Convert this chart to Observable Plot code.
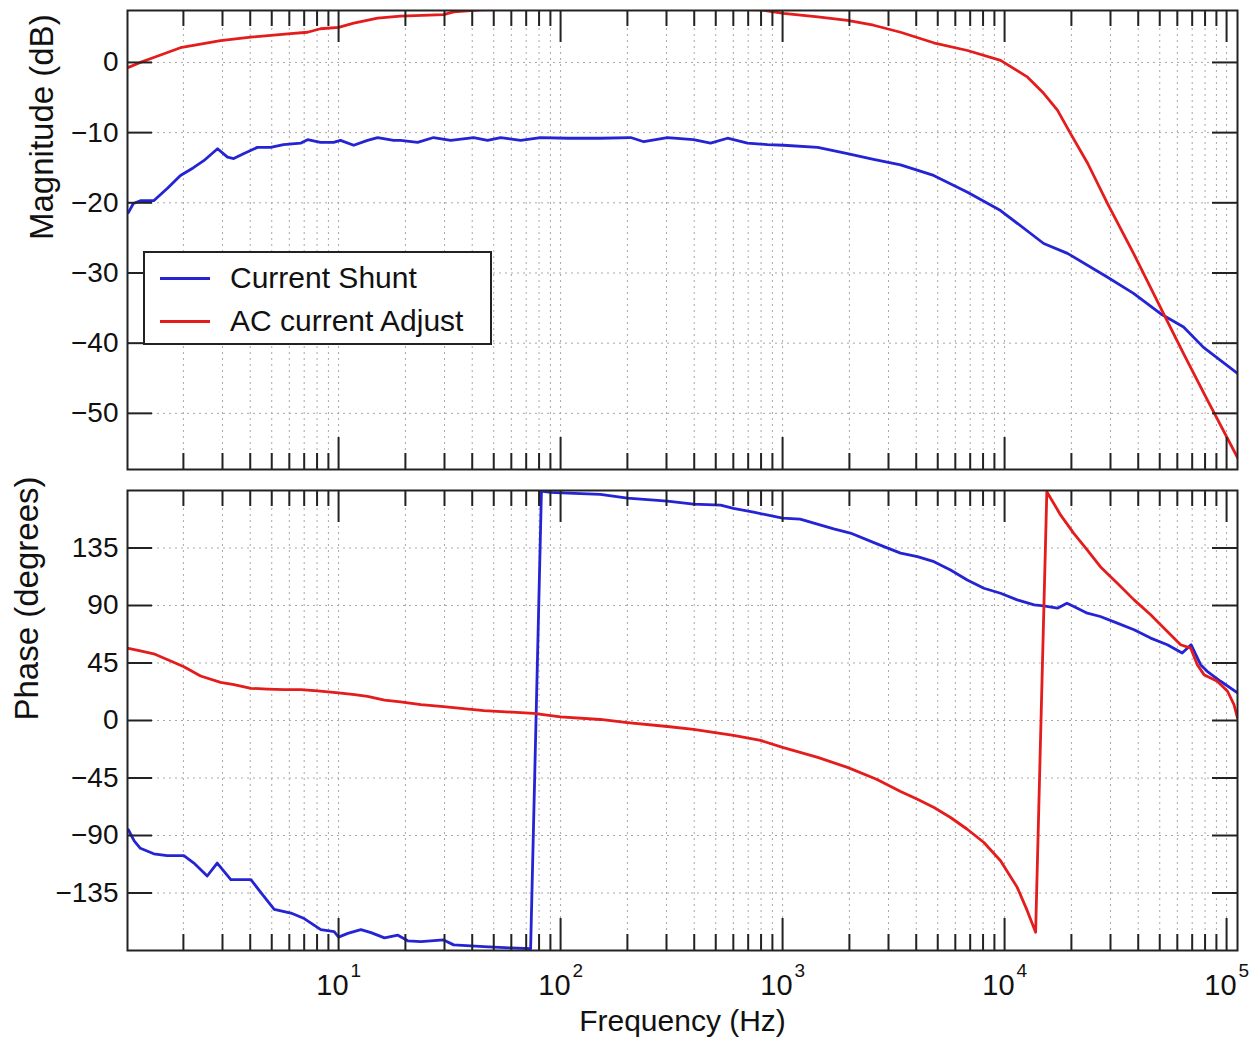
<!DOCTYPE html>
<html>
<head>
<meta charset="utf-8">
<script src="https://cdn.jsdelivr.net/npm/d3@7"></script>
<script src="https://cdn.jsdelivr.net/npm/@observablehq/plot@0.6"></script>
<style>
  body { margin: 0; background: #fff; }
  #wrap { position: relative; width: 1249px; height: 1050px; font-family: "Liberation Sans", Arial, sans-serif; background:#fff; }
  #wrap svg { display: block; }
  #legend { position: absolute; left: 143px; top: 251px; width: 345px; height: 90px; border: 2px solid #222; background: #fff; }
  .row { position: absolute; left: 0; height: 40px; display: flex; align-items: center; font-size: 30px; color: #111; white-space: nowrap; }
  .sw { width: 50px; height: 3px; margin-left: 15px; margin-right: 20px; }
</style>
</head>
<body>
<div id="wrap">
  <div id="top"></div>
  <div id="bottom"></div>
  <div id="legend"></div>
</div>
<script>
// ---------- data ----------
const seriesNames = ["Current Shunt", "AC current Adjust"];
const seriesColors = ["#2424d4", "#e41c1c"];

const decades = [10, 100, 1000, 10000, 100000];
const decadeExponents = ["1", "2", "3", "4", "5"];
const magTicks = [0, -10, -20, -30, -40, -50];
const phaseTicks = [135, 90, 45, 0, -45, -90, -135];
const xDomain = [1.12, 112000];
const magDomain = [-58, 7.4];
const phaseDomain = [-180, 180];

// Magnitude, Current Shunt
const magShuntFreq = [1.13,1.19,1.28,1.47,1.70,1.94,2.22,2.47,2.85,3.16,3.37,3.73,4.31,4.94,5.65,6.74,7.25,8.29,9.49,10.2,11.7,13.5,15.0,17.7,19.0,22.7,26.8,32.0,40.6,46.9,53.7,66.1,81.3,108,151,207,237,303,397,474,565,695,855,1010,1440,1960,2570,3400,4790,6810,9590,15000,19200,29100,38100,50400,64000,78700,112000];
const magShunt = [-21.4,-20.1,-19.7,-19.7,-17.9,-16.1,-15.0,-14.0,-12.3,-13.5,-13.7,-13.0,-12.1,-12.1,-11.7,-11.5,-11.0,-11.4,-11.4,-11.1,-11.8,-11.1,-10.7,-11.1,-11.1,-11.4,-10.7,-11.1,-10.7,-11.1,-10.7,-11.1,-10.7,-10.8,-10.8,-10.7,-11.3,-10.7,-11.0,-11.5,-10.8,-11.5,-11.7,-11.8,-12.1,-13.0,-13.8,-14.6,-16.1,-18.5,-21.1,-25.8,-27.2,-30.6,-32.9,-35.8,-37.7,-40.6,-44.3];

// Magnitude, AC current Adjust
const magAdjustFreq = [1.13,1.28,1.47,1.94,2.94,4.02,6.08,7.25,8.29,10.0,11.7,15.0,19.0,29.7,33.0,43.7,100,427,796,1010,1440,1960,2570,3400,4790,6810,9590,12700,15000,17300,19800,23700,29100,38100,52000,64000,82000,112000];
const magAdjust = [-0.7,0,0.7,2.1,3.1,3.6,4.1,4.3,4.8,5.0,5.6,6.3,6.6,6.8,7.2,7.5,7.7,7.7,7.5,7.0,6.5,6.0,5.3,4.3,2.8,1.7,0.3,-2.1,-4.4,-6.8,-10.1,-14.4,-20.1,-27.2,-35.8,-41.5,-48.1,-56.3];

// Phase, Current Shunt
const phaseShuntFreq = [1.13,1.20,1.28,1.47,1.69,2.01,2.23,2.56,2.84,3.27,4.03,4.47,5.13,6.10,7.00,8.32,9.55,10.0,11.0,12.6,14.0,16.1,18.5,20.5,23.5,29.7,33.0,45.1,59.6,73.3,82.0,90,108,151,200,303,397,526,601,740,1000,1200,1700,2020,2680,3400,4050,4810,5710,6790,8070,9590,11400,13600,15000,17300,19100,20500,23600,27000,32200,38300,45500,54100,63100,69200,76400,81800,94000,112000];
const phaseShunt = [-85.5,-94.2,-100,-104.3,-105.8,-105.8,-111.6,-121.7,-111.6,-124.6,-124.6,-134.7,-147.8,-150.7,-155,-163.7,-165.2,-169.5,-166.6,-163.7,-166,-170.1,-168,-172.4,-173,-171.7,-175.6,-177,-178,-178.5,179.5,178.5,178,177,174,171.7,169.3,168.5,166,163,158.4,157.6,150,146.7,138,131,128.2,124.3,117.8,110,103.5,99.6,94.4,90.5,89.7,87.9,91.8,89.2,84,81.4,76.2,71,64.5,59.3,52.8,59.3,43.7,38.5,30.7,21.6];

// Phase, AC current Adjust
const phaseAdjustFreq = [1.13,1.28,1.47,1.69,2.01,2.39,2.94,3.38,4.03,4.79,5.69,6.76,8.04,10.0,11.8,13.5,16.1,19.0,23.5,29.7,45.1,75.5,100,151,200,303,397,601,796,1000,1440,1960,2650,3400,4050,4810,5710,6790,8070,9590,11400,12650,13800,15500,17900,20500,23600,27000,32200,38300,45500,54100,62100,68900,73800,79100,90800,101000,108000,112000];
const phaseAdjust = [56.5,54.5,52.2,47.8,42.0,34.8,29.8,28.1,25.2,24.6,24.1,24.1,23.2,21.7,20.3,18.8,15.9,14.5,12.5,10.9,7.8,5.5,2.8,0.8,-1.6,-4.7,-7.0,-11.7,-15.6,-21,-28.9,-36.7,-46,-55.5,-61.6,-68.1,-75.9,-85.1,-95.5,-109.8,-130.6,-148.8,-165.7,179,160.7,146.4,133.4,120.4,107.4,94.4,82.7,69.7,59.3,56.7,43.7,35.9,30.7,22.9,12.5,2.1];

// ---------- helpers ----------
const toRows = (fs, vs) => fs.map((f, i) => ({f, v: vs[i]}));
const minorTicks = [];
for (const d of [1, 10, 100, 1000, 10000]) {
  for (let m = 2; m <= 9; m++) {
    const v = d * m;
    if (v > xDomain[0] && v < xDomain[1]) minorTicks.push(v);
  }
}
const allXTicks = minorTicks.concat(decades);

const W = 1249, ML = 127, MR = 12;
const innerW = W - ML - MR;
const font = "Liberation Sans, Arial, sans-serif";
const gridStyle = {stroke: "#a8a8a8", strokeWidth: 1, strokeDasharray: "2,4"};
const tickStyle = {stroke: "#222", strokeWidth: 2};

function panel({height, marginTop, marginBottom, yDomain, yTicks, lines, label, labelDx, extra = []}) {
  const innerH = height - marginTop - marginBottom;
  return Plot.plot({
    width: W, height, marginLeft: ML, marginRight: MR, marginTop, marginBottom,
    style: {fontFamily: font, color: "#111", background: "#fff"},
    x: {type: "log", domain: xDomain, axis: null},
    y: {domain: yDomain, axis: null},
    marks: [
      Plot.ruleX(allXTicks, gridStyle),
      Plot.ruleY(yTicks, gridStyle),
      ...lines.map(([rows, color]) => Plot.line(rows, {x: "f", y: "v", stroke: color, strokeWidth: 2.8, clip: true})),
      // inward ticks
      Plot.ruleX(minorTicks, {...tickStyle, insetBottom: innerH - 16}),
      Plot.ruleX(minorTicks, {...tickStyle, insetTop: innerH - 16}),
      Plot.ruleX(decades, {...tickStyle, insetBottom: innerH - 32}),
      Plot.ruleX(decades, {...tickStyle, insetTop: innerH - 32}),
      Plot.ruleY(yTicks, {...tickStyle, insetRight: innerW - 25}),
      Plot.ruleY(yTicks, {...tickStyle, insetLeft: innerW - 25}),
      Plot.frame({stroke: "#222", strokeWidth: 2}),
      Plot.axisY(yTicks, {tickSize: 0, tickPadding: 9, fontSize: 28, label: null}),
      Plot.text([label], {frameAnchor: "left", dx: labelDx, rotate: -90, fontSize: 33, fill: "#111"}),
      ...extra
    ]
  });
}

const topPlot = panel({
  height: 478, marginTop: 10, marginBottom: 9,
  yDomain: magDomain, yTicks: magTicks,
  lines: [[toRows(magShuntFreq, magShunt), seriesColors[0]], [toRows(magAdjustFreq, magAdjust), seriesColors[1]]],
  label: "Magnitude (dB)", labelDx: -85
});

const bottomPlot = panel({
  height: 572, marginTop: 12, marginBottom: 100,
  yDomain: phaseDomain, yTicks: phaseTicks,
  lines: [[toRows(phaseShuntFreq, phaseShunt), seriesColors[0]], [toRows(phaseAdjustFreq, phaseAdjust), seriesColors[1]]],
  label: "Phase (degrees)", labelDx: -100,
  extra: [
    Plot.text(decades, {x: d => d, text: () => "10", frameAnchor: "bottom", dy: 44, dx: 10, textAnchor: "end", fontSize: 29, fill: "#111"}),
    Plot.text(decades, {x: d => d, text: decadeExponents, frameAnchor: "bottom", dy: 26, dx: 12, textAnchor: "start", fontSize: 19, fill: "#111"}),
    Plot.text(["Frequency (Hz)"], {frameAnchor: "bottom", dy: 80, fontSize: 30, fill: "#111"})
  ]
});

document.getElementById("top").append(topPlot);
document.getElementById("bottom").append(bottomPlot);

// legend
const legend = document.getElementById("legend");
seriesNames.forEach((name, i) => {
  const row = document.createElement("div");
  row.className = "row";
  row.style.top = (i === 0 ? 5 : 48) + "px";
  const sw = document.createElement("span");
  sw.className = "sw";
  sw.style.background = seriesColors[i];
  const t = document.createElement("span");
  t.textContent = name;
  row.append(sw, t);
  legend.append(row);
});
</script>
</body>
</html>
